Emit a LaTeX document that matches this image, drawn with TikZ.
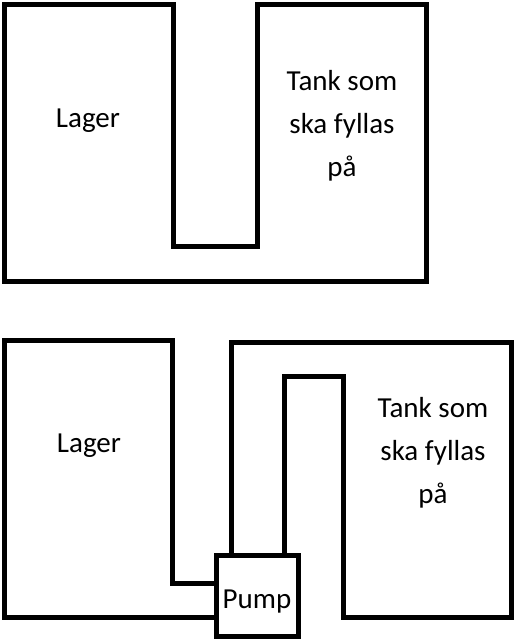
\documentclass[tikz,border=0pt]{standalone}
\usepackage{fontspec}
\setmainfont{Carlito}
\usetikzlibrary{positioning}

\begin{document}
\begin{tikzpicture}[x=1pt,y=-1pt,
  wall/.style={line width=5pt,line join=miter},
  tanktext/.style={font=\fontsize{29}{43}\selectfont,align=center,inner sep=0pt},
  pumpbox/.style={draw,line width=5pt,minimum width=82pt,minimum height=81pt,inner sep=0pt}]

\useasboundingbox (0,0) rectangle (516,640);

% before: the two tanks share one wall with a dip between them
\draw[wall] (4,4) -- (173,4) -- (173,246) -- (257,246) -- (257,4)
  -- (426,4) -- (426,281) -- (4,281) -- cycle;
\node[tanktext,anchor=base] (lager1) at (88,127) {Lager};
\node[tanktext] (tank1) at (342,126) {Tank som\\ska fyllas\\på};

% after: pump between the tanks
\node[pumpbox] (pump) at (257,595.5) {};
\node[tanktext,anchor=base] (pumplbl) at (257,608) {Pump};

\coordinate (lagin) at (pump.west |- {(0,583)});
\coordinate (lagout) at (pump.west |- {(0,617)});
\draw[wall] (lagin) -- (172,583) -- (172,340) -- (4,340) -- (4,617) -- (lagout);

\coordinate (tankin) at (pump.north -| {(231,0)});
\coordinate (tankout) at (pump.north -| {(284,0)});
\draw[wall] (tankin) -- (231,342) -- (511,342) -- (511,617) -- (343,617)
  -- (343,376) -- (284,376) -- (tankout);

\node[tanktext,anchor=base] (lager2) at (89,452) {Lager};
\node[tanktext] (tank2) at (433,452.5) {Tank som\\ska fyllas\\på};
\end{tikzpicture}
\end{document}
